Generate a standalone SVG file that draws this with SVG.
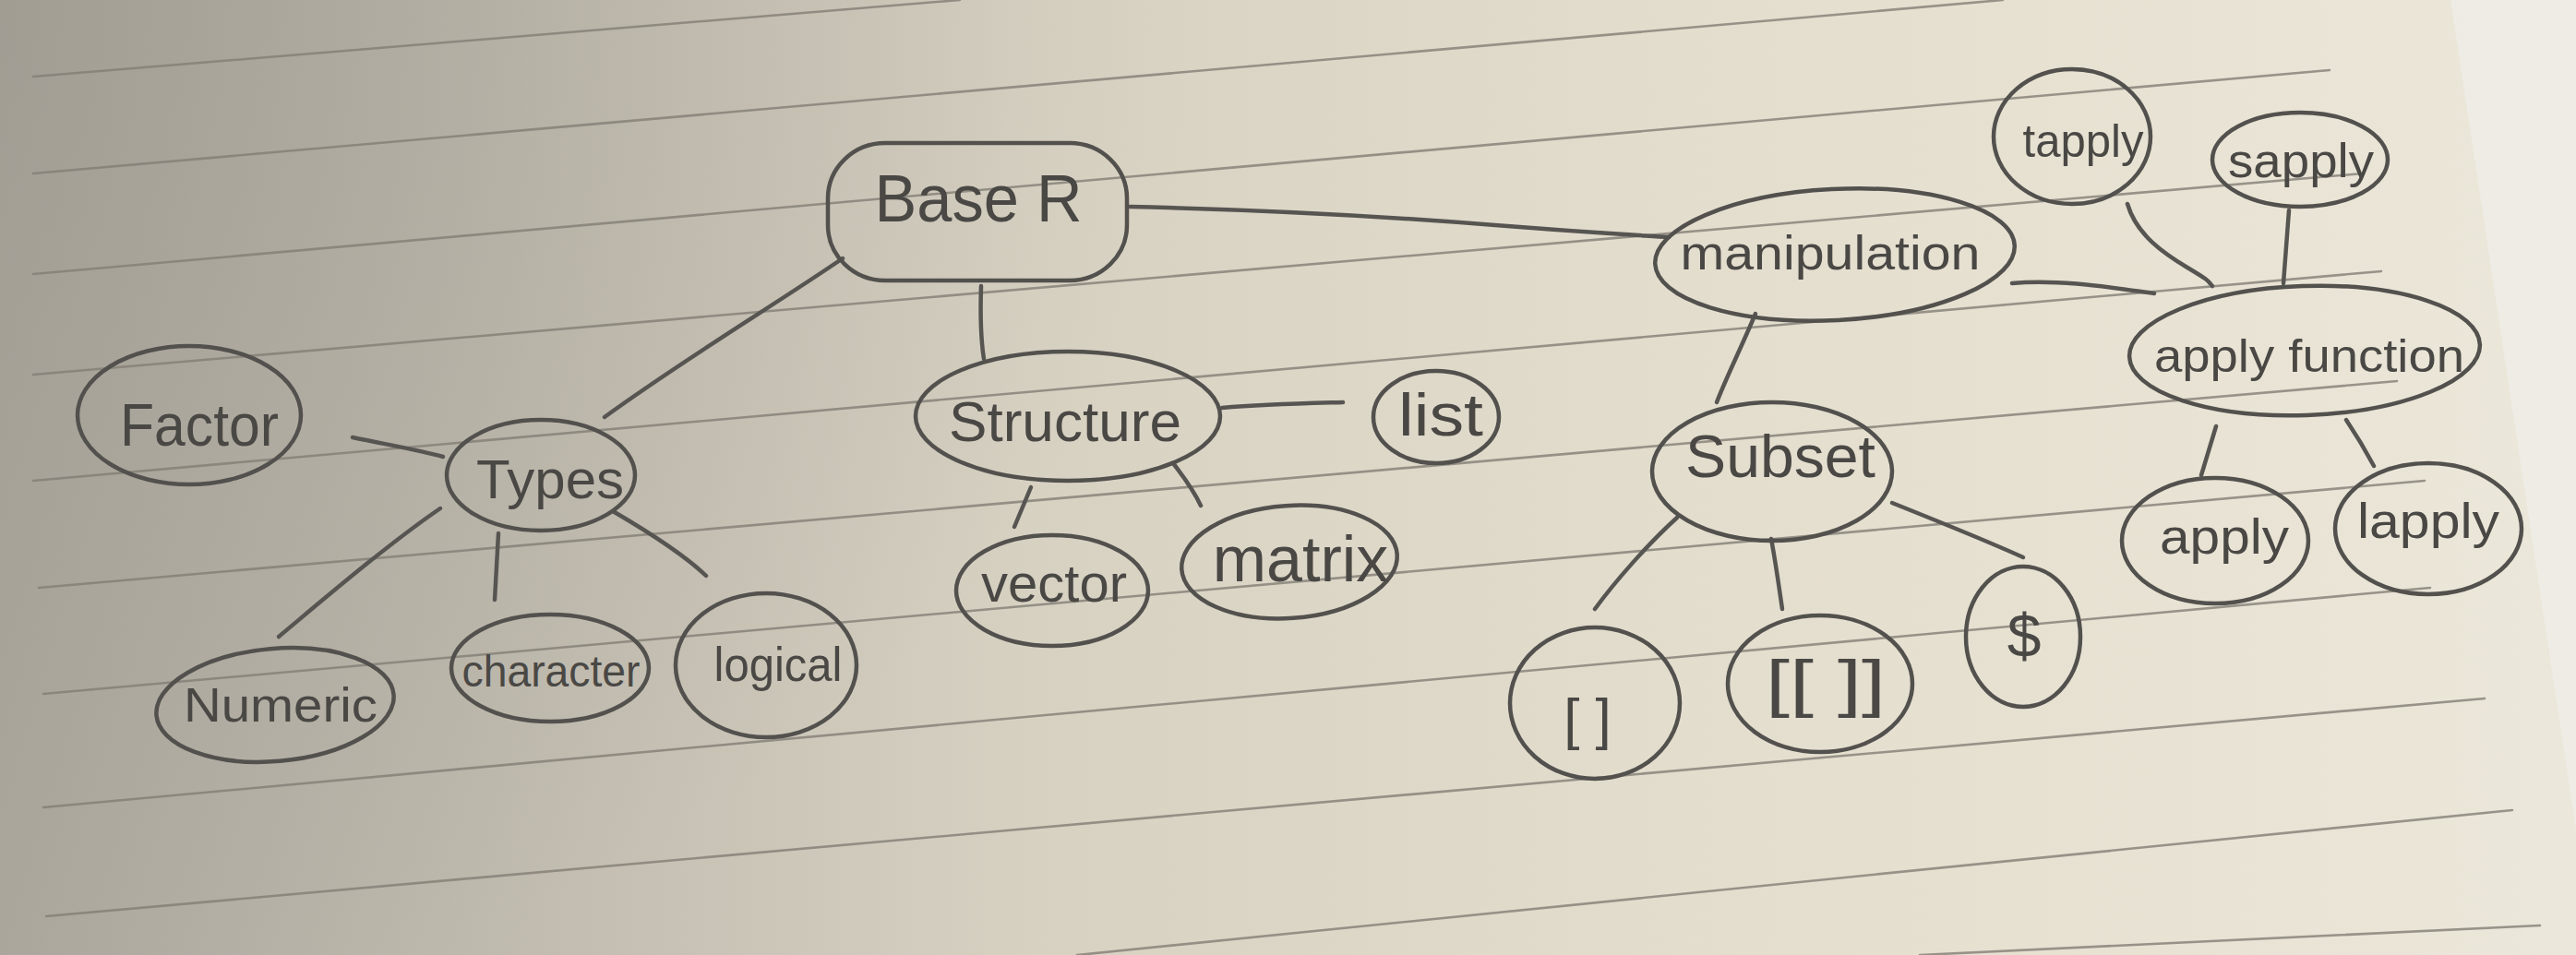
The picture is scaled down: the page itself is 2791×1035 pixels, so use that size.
<svg xmlns="http://www.w3.org/2000/svg" width="2791" height="1035" viewBox="0 0 2791 1035">
  <defs>
    <linearGradient id="paper" x1="0" y1="0" x2="1" y2="0">
      <stop offset="0" stop-color="#aca79d"/>
      <stop offset="0.18" stop-color="#beb9ad"/>
      <stop offset="0.4" stop-color="#d7d1c2"/>
      <stop offset="0.65" stop-color="#e3ddcd"/>
      <stop offset="0.9" stop-color="#e9e4d5"/>
      <stop offset="1" stop-color="#ebe7da"/>
    </linearGradient>
    <radialGradient id="shade" cx="0" cy="0" r="1" gradientUnits="userSpaceOnUse" gradientTransform="translate(0 0) scale(1300 1100)">
      <stop offset="0" stop-color="#8f8a81" stop-opacity="0.35"/>
      <stop offset="1" stop-color="#8f8a81" stop-opacity="0"/>
    </radialGradient>
    <style>
      .rule { stroke: #827e75; stroke-width: 2.6; fill: none; stroke-linecap: round; opacity: 0.8; }
      .shape { fill: none; stroke: #53514e; stroke-width: 4.5; stroke-linejoin: round; }
      .edge { fill: none; stroke: #575552; stroke-width: 4.5; stroke-linecap: round; }
      .lbl { font-family: "Liberation Sans", Arial, sans-serif; fill: #4a4845; text-anchor: middle; }
    </style>
  </defs>

  <!-- paper background -->
  <g id="background">
    <rect x="0" y="0" width="2791" height="1035" fill="url(#paper)"/>
    <rect x="0" y="0" width="2791" height="1035" fill="url(#shade)"/>
    <polygon points="2655,0 2791,0 2791,900" fill="#efece6" opacity="0.85"/>
    <!-- ruled lines -->
    <line class="rule" x1="36" y1="83" x2="1040" y2="0"/>
    <line class="rule" x1="36" y1="188" x2="2170" y2="0"/>
    <line class="rule" x1="36" y1="297" x2="2524" y2="76"/>
    <line class="rule" x1="36" y1="406" x2="2560" y2="188"/>
    <line class="rule" x1="36" y1="521" x2="2580" y2="294"/>
    <line class="rule" x1="42" y1="637" x2="2597" y2="413"/>
    <line class="rule" x1="47" y1="752" x2="2627" y2="521"/>
    <line class="rule" x1="47" y1="875" x2="2633" y2="637"/>
    <line class="rule" x1="50" y1="993" x2="2692" y2="757"/>
    <line class="rule" x1="1167" y1="1035" x2="2722" y2="878"/>
    <line class="rule" x1="2080" y1="1035" x2="2752" y2="1003"/>
  </g>

  <!-- connectors -->
  <g id="connectors">
    <path class="edge" d="M 655 452 C 740 390, 840 330, 913 280"/>
    <path class="edge" d="M 382 474 C 420 482, 455 488, 480 495"/>
    <path class="edge" d="M 477 551 C 420 590, 350 650, 302 690"/>
    <path class="edge" d="M 540 578 L 536 650"/>
    <path class="edge" d="M 664 554 C 700 575, 740 600, 765 624"/>
    <path class="edge" d="M 1063 310 C 1062 340, 1063 370, 1066 389"/>
    <path class="edge" d="M 1224 224 C 1400 228, 1520 236, 1620 244 S 1760 254, 1808 257"/>
    <path class="edge" d="M 1324 442 C 1370 438, 1420 437, 1455 436"/>
    <path class="edge" d="M 1117 528 L 1099 571"/>
    <path class="edge" d="M 1271 502 C 1285 520, 1295 535, 1301 548"/>
    <path class="edge" d="M 1902 340 C 1885 380, 1870 410, 1860 436"/>
    <path class="edge" d="M 2180 307 C 2230 302, 2290 312, 2334 318"/>
    <path class="edge" d="M 1817 561 C 1785 590, 1750 630, 1728 660"/>
    <path class="edge" d="M 1919 584 C 1924 610, 1928 640, 1931 660"/>
    <path class="edge" d="M 2050 545 C 2100 565, 2150 585, 2192 604"/>
    <path class="edge" d="M 2305 221 C 2315 255, 2345 275, 2370 290 S 2392 304, 2397 310"/>
    <path class="edge" d="M 2480 228 L 2474 307"/>
    <path class="edge" d="M 2401 462 L 2385 515"/>
    <path class="edge" d="M 2542 455 C 2552 470, 2564 490, 2572 505"/>
  </g>

  <!-- nodes -->
  <g id="node-base-r">
    <rect class="shape" x="897" y="155" width="324" height="149" rx="62" ry="60"/>
    <text class="lbl" x="1060" y="240" font-size="72" textLength="225" lengthAdjust="spacingAndGlyphs">Base R</text>
  </g>
  <g id="node-factor">
    <ellipse class="shape" cx="205" cy="450" rx="121" ry="75"/>
    <text class="lbl" x="216" y="483" font-size="64" textLength="172" lengthAdjust="spacingAndGlyphs">Factor</text>
  </g>
  <g id="node-types">
    <ellipse class="shape" cx="586" cy="515" rx="102" ry="60"/>
    <text class="lbl" x="596" y="540" font-size="60" textLength="160" lengthAdjust="spacingAndGlyphs">Types</text>
  </g>
  <g id="node-numeric">
    <ellipse class="shape" cx="298" cy="764" rx="129" ry="61" transform="rotate(-5 298 764)"/>
    <text class="lbl" x="304" y="782" font-size="52" textLength="210" lengthAdjust="spacingAndGlyphs">Numeric</text>
  </g>
  <g id="node-character">
    <ellipse class="shape" cx="596" cy="724" rx="107" ry="58"/>
    <text class="lbl" x="597" y="744" font-size="48" textLength="193" lengthAdjust="spacingAndGlyphs">character</text>
  </g>
  <g id="node-logical">
    <ellipse class="shape" cx="830" cy="721" rx="98" ry="78"/>
    <text class="lbl" x="843" y="738" font-size="52" textLength="139" lengthAdjust="spacingAndGlyphs">logical</text>
  </g>
  <g id="node-structure">
    <ellipse class="shape" cx="1157" cy="451" rx="165" ry="70"/>
    <text class="lbl" x="1154" y="478" font-size="62" textLength="252" lengthAdjust="spacingAndGlyphs">Structure</text>
  </g>
  <g id="node-list">
    <ellipse class="shape" cx="1556" cy="452" rx="68" ry="50"/>
    <text class="lbl" x="1561" y="472" font-size="64" textLength="92" lengthAdjust="spacingAndGlyphs">list</text>
  </g>
  <g id="node-vector">
    <ellipse class="shape" cx="1140" cy="640" rx="104" ry="60"/>
    <text class="lbl" x="1142" y="652" font-size="58" textLength="158" lengthAdjust="spacingAndGlyphs">vector</text>
  </g>
  <g id="node-matrix">
    <ellipse class="shape" cx="1397" cy="609" rx="117" ry="61" transform="rotate(-4 1397 609)"/>
    <text class="lbl" x="1409" y="630" font-size="70">matrix</text>
  </g>
  <g id="node-manipulation">
    <ellipse class="shape" cx="1988" cy="276" rx="195" ry="71" transform="rotate(-3 1988 276)"/>
    <text class="lbl" x="1983" y="292" font-size="52" textLength="325" lengthAdjust="spacingAndGlyphs">manipulation</text>
  </g>
  <g id="node-subset">
    <ellipse class="shape" cx="1920" cy="511" rx="130" ry="75"/>
    <text class="lbl" x="1929" y="517" font-size="64" textLength="206" lengthAdjust="spacingAndGlyphs">Subset</text>
  </g>
  <g id="node-bracket">
    <ellipse class="shape" cx="1728" cy="762" rx="92" ry="82"/>
    <text class="lbl" x="1720" y="800" font-size="62">[ ]</text>
  </g>
  <g id="node-double-bracket">
    <ellipse class="shape" cx="1972" cy="741" rx="100" ry="74"/>
    <text class="lbl" x="1978" y="764" font-size="68" textLength="130" lengthAdjust="spacingAndGlyphs">[[ ]]</text>
  </g>
  <g id="node-dollar">
    <ellipse class="shape" cx="2192" cy="690" rx="62" ry="76"/>
    <text class="lbl" x="2193" y="712" font-size="66">$</text>
  </g>
  <g id="node-tapply">
    <ellipse class="shape" cx="2245" cy="148" rx="85" ry="73"/>
    <text class="lbl" x="2257" y="170" font-size="50" textLength="131" lengthAdjust="spacingAndGlyphs">tapply</text>
  </g>
  <g id="node-sapply">
    <ellipse class="shape" cx="2492" cy="173" rx="95" ry="51"/>
    <text class="lbl" x="2493" y="192" font-size="52" textLength="158" lengthAdjust="spacingAndGlyphs">sapply</text>
  </g>
  <g id="node-apply-function">
    <ellipse class="shape" cx="2497" cy="380" rx="190" ry="70" transform="rotate(-2 2497 380)"/>
    <text class="lbl" x="2502" y="403" font-size="50" textLength="336" lengthAdjust="spacingAndGlyphs">apply function</text>
  </g>
  <g id="node-apply">
    <ellipse class="shape" cx="2400" cy="586" rx="101" ry="68"/>
    <text class="lbl" x="2410" y="600" font-size="54" textLength="140" lengthAdjust="spacingAndGlyphs">apply</text>
  </g>
  <g id="node-lapply">
    <ellipse class="shape" cx="2631" cy="573" rx="101" ry="71"/>
    <text class="lbl" x="2631" y="583" font-size="54" textLength="154" lengthAdjust="spacingAndGlyphs">lapply</text>
  </g>
</svg>
